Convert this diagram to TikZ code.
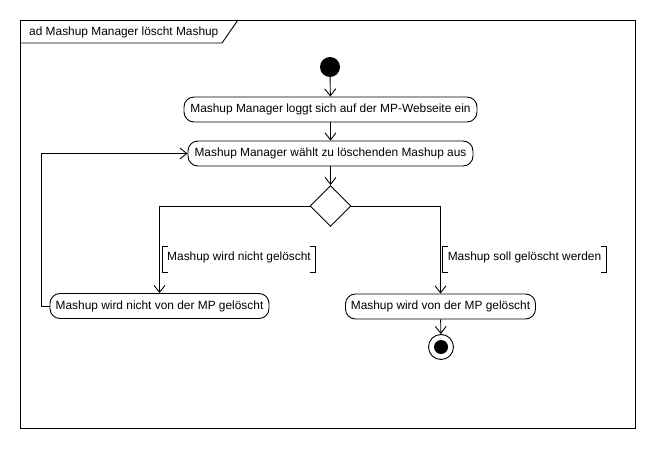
\documentclass[tikz,border=0pt]{standalone}
\usepackage{fontspec}
\setmainfont{Liberation Sans}
\usetikzlibrary{arrows.meta,shapes.geometric}
\begin{document}
\begin{tikzpicture}[x=1pt,y=-1pt,
  every node/.style={font=\fontsize{11.9}{14}\selectfont},
  action/.style={draw,line width=0.9pt,rounded corners=10pt,minimum height=25pt,inner sep=2pt,align=center},
  flow/.style={line width=0.9pt,-{Straight Barb[length=7pt,width=11pt,line width=0.9pt]}},
  guard/.style={inner xsep=3pt,inner ysep=0pt,text height=13.5pt,text depth=11.5pt}
]
\useasboundingbox (0,0) rectangle (656,449);
% frame
\draw[line width=0.9pt] (20,20) rectangle (635,428);
\draw[line width=0.9pt] (20,43) -- (222,43) -- (238,20);
\node[anchor=west,inner sep=0pt] (title) at (29,32) {ad Mashup Manager löscht Mashup};
% nodes
\node[circle,fill=black,minimum size=20pt,inner sep=0pt] (start) at (330,67) {};
\node[action,minimum width=293pt] (a1) at (330.5,109.5) {Mashup Manager loggt sich auf der MP-Webseite ein};
\node[action,minimum width=285pt] (a2) at (330.5,153.5) {Mashup Manager wählt zu löschenden Mashup aus};
\node[diamond,draw,line width=0.9pt,minimum width=41pt,minimum height=41pt,inner sep=0pt] (d) at (330.5,206) {};
\node[action,minimum width=219pt] (al) at (159.5,306) {Mashup wird nicht von der MP gelöscht};
\node[action,minimum width=190pt] (ar) at (440.5,306.5) {Mashup wird von der MP gelöscht};
\node[circle,draw,line width=0.9pt,minimum size=25pt,inner sep=0pt] (end) at (441,347) {};
\node[circle,fill=black,minimum size=14pt,inner sep=0pt] (endin) at (441,347) {};
% guards
\node[guard,minimum width=152pt] (gl) at (239,259.5) {Mashup wird nicht gelöscht};
\node[guard,minimum width=163pt] (gr) at (524.5,259.5) {Mashup soll gelöscht werden};
\foreach \g in {gl,gr}{
  \draw[line width=0.9pt] ([xshift=5pt]\g.north west) -- (\g.north west) -- (\g.south west) -- ([xshift=5pt]\g.south west);
  \draw[line width=0.9pt] ([xshift=-5pt]\g.north east) -- (\g.north east) -- (\g.south east) -- ([xshift=-5pt]\g.south east);
}
% flows
\draw[flow] (start) -- (a1);
\draw[flow] (a1) -- (a2);
\draw[flow] (a2) -- (d);
\draw[flow] (d.west) -| (al.north);
\draw[flow] (d.east) -| (ar.north);
\draw[flow] (ar) -- (end);
\coordinate (lx) at (41,0);
\draw[flow] (al.west) -- (al.west -| lx) |- (a2.west);
\end{tikzpicture}
\end{document}
